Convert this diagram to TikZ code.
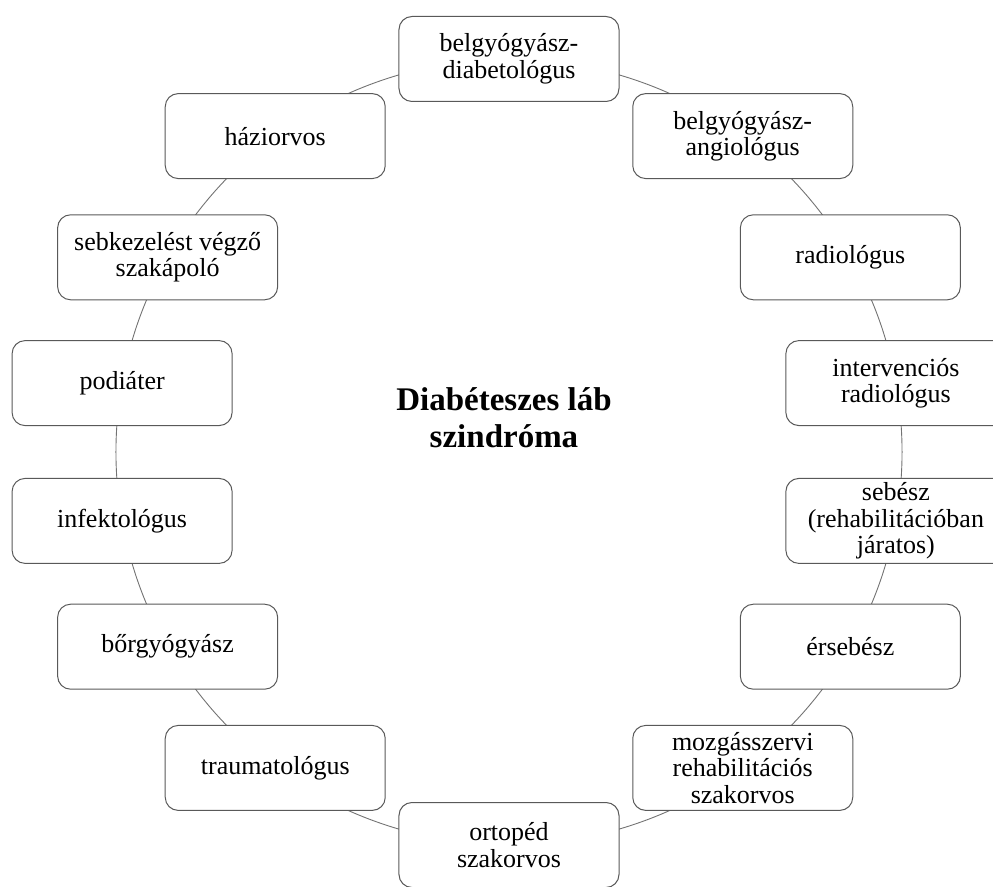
\documentclass[tikz,border=0pt]{standalone}
\usepackage{fontspec}
\setmainfont{Liberation Serif}
\usepackage{tikz}
\usetikzlibrary{backgrounds}
\tikzset{szakma/.style={rectangle, rounded corners=13pt, draw=black!65, fill=white,
    line width=1pt, minimum width=220pt, minimum height=85pt, align=center, inner sep=2pt,
    font=\fontsize{26}{26.5}\selectfont}}
\tikzset{kor/.style={draw=black!55, line width=0.9pt, looseness=0.87}}

\begin{document}
\begin{tikzpicture}[x=1pt,y=1pt]
\useasboundingbox (-509,-434) rectangle (484,452);
\clip (-509,-434) rectangle (484,452);

\node[font=\bfseries\fontsize{33}{37}\selectfont, align=center] (szindroma) at (-5,34) {Diabéteszes láb\\szindróma};

% jobb oldal
\node[szakma] (diab) at (90:393) {belgyógyász-\\diabetológus};
\node[szakma] (angio) at (53.5:393) {belgyógyász-\\angiológus};
\node[szakma] (radio) at (29.7:393) {radiológus};
\node[szakma] (interv) at (10.1:393) {intervenciós\\radiológus};
\node[szakma] (sebesz) at (-10.1:393) {sebész\\(rehabilitációban\\járatos)};
\node[szakma] (ersebesz) at (-29.7:393) {érsebész};
\node[szakma] (mozgas) at (-53.5:393) {mozgásszervi\\rehabilitációs\\szakorvos};
\node[szakma] (ortoped) at (-90:393) {ortopéd\\szakorvos};
% bal oldal
\node[szakma] (trauma) at (-126.5:393) {traumatológus};
\node[szakma] (borgy) at (-150.3:393) {bőrgyógyász};
\node[szakma] (infekt) at (-169.9:393) {infektológus};
\node[szakma] (podiater) at (169.9:393) {podiáter};
\node[szakma] (sebkez) at (150.3:393) {sebkezelést végző\\szakápoló};
\node[szakma] (haziorvos) at (126.5:393) {háziorvos};

\begin{scope}[on background layer]
\foreach \a/\b/\h in {diab/angio/18.25, angio/radio/11.9, radio/interv/9.8,
    interv/sebesz/10.1, sebesz/ersebesz/9.8, ersebesz/mozgas/11.9,
    mozgas/ortoped/18.25, ortoped/trauma/18.25, trauma/borgy/11.9,
    borgy/infekt/9.8, infekt/podiater/10.1, podiater/sebkez/9.8,
    sebkez/haziorvos/11.9, haziorvos/diab/18.25}
  \draw[kor] (\a.center) to[bend left=\h] (\b.center);
\end{scope}
\end{tikzpicture}
\end{document}
